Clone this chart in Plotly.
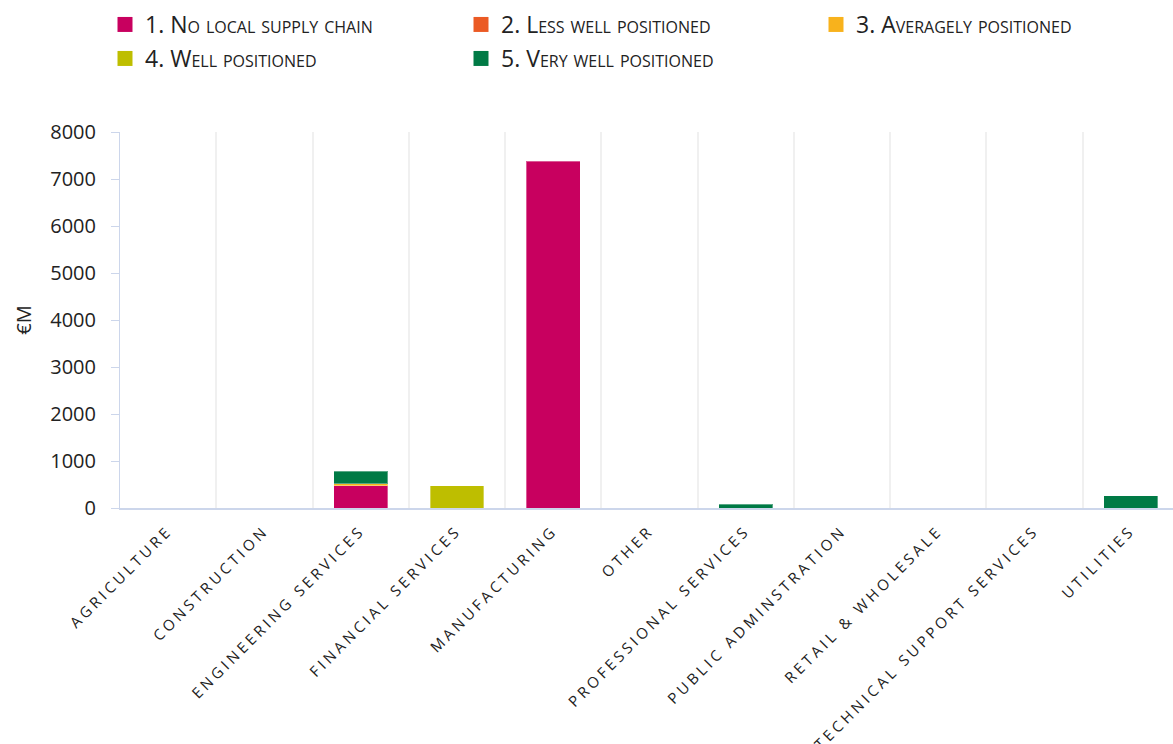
import plotly.graph_objects as go

# Sectors along the x axis
categories = [
    "AGRICULTURE", "CONSTRUCTION", "ENGINEERING SERVICES", "FINANCIAL SERVICES",
    "MANUFACTURING", "OTHER", "PROFESSIONAL SERVICES", "PUBLIC ADMINSTRATION",
    "RETAIL & WHOLESALE", "TECHNICAL SUPPORT SERVICES", "UTILITIES",
]

# Spend (€M) by supply-chain positioning; None = no spend
no_local_supply = [None, None, 475, None, 7380, None, None, None, None, None, None]
less_well = [None, None, None, None, None, None, None, None, None, None, None]
averagely = [None, None, 40, None, None, None, None, None, None, None, None]
well = [None, None, None, 470, None, None, None, None, None, None, None]
very_well = [None, None, 265, None, None, None, 80, None, None, None, 265]

series_names = [
    "1. No local supply chain", "2. Less well positioned", "3. Averagely positioned",
    "4. Well positioned", "5. Very well positioned",
]
series_values = [no_local_supply, less_well, averagely, well, very_well]
series_colors = ["#C8005F", "#EB5A24", "#F8B21C", "#BEBE00", "#007A45"]

W, H = 1179, 744
FONT = "Open Sans, Noto Sans, sans-serif"

# legend slot (container px) for each series: two rows, three columns
legend_slots = [(105, 3), (461, 3), (816, 3), (105, 37), (461, 37)]
legend_ids = ["legend", "legend2", "legend3", "legend4", "legend5"]

fig = go.Figure()
for name, vals, col, lid in zip(series_names, series_values, series_colors, legend_ids):
    fig.add_trace(go.Bar(
        x=categories, y=vals, name=name, showlegend=False,
        marker=dict(color=col, line=dict(color="rgba(255,255,255,0.35)", width=1)),
    ))
    # square swatch for the legend entry
    fig.add_trace(go.Scatter(
        x=[None], y=[None], mode="markers", name=name, legend=lid,
        marker=dict(symbol="square", size=15, color=col),
        hoverinfo="skip",
    ))

layout_legends = {}
for lid, (lx, ly) in zip(legend_ids, legend_slots):
    layout_legends[lid] = dict(
        x=lx / W, y=1 - ly / H, xref="container", yref="container",
        xanchor="left", yanchor="top", orientation="h",
        font=dict(family=FONT, size=23, color="#222222", variant="small-caps"),
        bgcolor="rgba(0,0,0,0)", itemwidth=30, itemclick=False,
        itemsizing="trace", tracegroupgap=0,
    )

fig.update_layout(
    width=W, height=H,
    margin=dict(l=120, r=0, t=132, b=236),
    paper_bgcolor="white", plot_bgcolor="white",
    barmode="stack", bargap=0.44,
    font=dict(family=FONT, color="#222222"),
    showlegend=True,
    **layout_legends,
)

fig.update_xaxes(
    type="category",
    tickangle=-45,
    tickfont=dict(family=FONT, size=15, color="#222222"),
    showline=True, linecolor="#CCD6EB", linewidth=2,
    showgrid=True, gridcolor="#F0F0F0", gridwidth=2,
    tickson="boundaries", ticks="", ticklabelstandoff=6, automargin=False,
)

fig.update_yaxes(
    range=[0, 8000], dtick=1000,
    showgrid=False, zeroline=False,
    showline=True, linecolor="#CCD6EB", linewidth=1,
    ticks="outside", ticklen=8, tickcolor="#CCD6EB", tickwidth=1,
    ticklabelstandoff=11,
    tickfont=dict(family=FONT, size=20, color="#222222"),
    title=dict(text="€M", font=dict(family=FONT, size=20, color="#222222"), standoff=13),
    automargin=False,
)

# spaced-out lettering for the sector labels; clip the slight overflow
page_js = """
var s = document.createElement('style');
s.textContent = '.xtick text { letter-spacing: 3.5px; } body { overflow: hidden; margin: 0; }';
document.head.appendChild(s);
"""

fig.write_html("out.html", post_script=page_js)
